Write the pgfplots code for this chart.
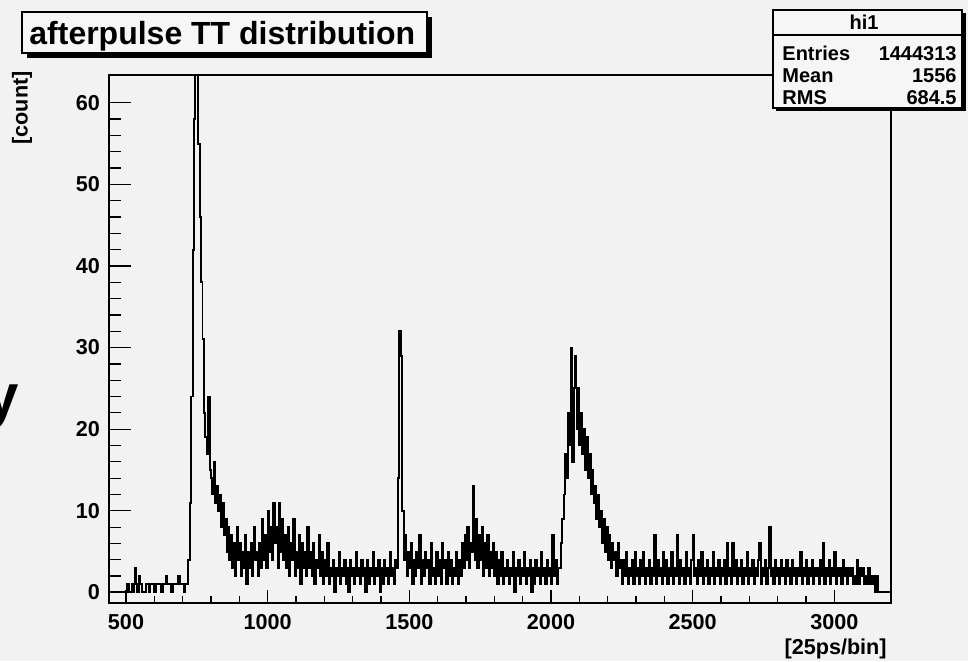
\documentclass[border=0pt]{standalone}
\usepackage{fontspec}
\setmainfont{Liberation Sans}
\usepackage{pgfplots}
\pgfplotsset{compat=1.18}
\definecolor{bg}{RGB}{242,242,242}
\definecolor{boxbg}{RGB}{246,246,246}
\begin{document}
\begin{tikzpicture}[x=1pt,y=1pt]
\useasboundingbox (0,0) rectangle (484,330.5);
\fill[bg] (0,0) rectangle (484,330.5);
\begin{axis}[
  at={(54.5pt,29pt)}, anchor=south west, scale only axis,
  width=391pt, height=264pt,
  xmin=440, xmax=3200, ymin=-1.3, ymax=63.4,
  xtick={500,1000,1500,2000,2500,3000}, ytick={0,10,20,30,40,50,60},
  minor x tick num=4, minor y tick num=4,
  tick align=inside, tick pos=left,
  xtick style={/pgfplots/major tick length=6.5pt,/pgfplots/minor tick length=3.5pt},
  ytick style={/pgfplots/major tick length=11pt,/pgfplots/minor tick length=6pt},
  axis line style={line width=0.6pt},
  tick style={black, line width=0.6pt},
  ticklabel style={font=\bfseries\fontsize{10.8}{12}\selectfont},
  xticklabel style={yshift=-2pt},
  yticklabel style={xshift=-1pt},
  /pgf/number format/assume math mode=true,
  /pgf/number format/1000 sep={},
  scaled ticks=false,
  axis background/.style={fill=bg},
]
\addplot[const plot mark left, black, line width=0.95pt, line join=miter] coordinates {
(440,0)(445,0)(450,0)(455,0)(460,0)(465,0)(470,0)(475,0)(480,0)(485,0)(490,0)(495,0)(500,0)(505,1)(510,0)(515,0)(520,1)(525,0)(530,3)(535,1)(540,0)(545,2)(550,1)(555,0)(560,0)(565,0)(570,1)(575,1)(580,0)(585,1)(590,1)(595,1)(600,0)(605,1)(610,1)(615,1)(620,1)(625,0)(630,1)(635,1)(640,2)(645,1)(650,1)(655,1)(660,0)(665,1)(670,1)(675,1)(680,1)(685,2)(690,1)(695,1)(700,1)(705,0)(710,1)(715,1)(720,4)
(725,11)(730,24)(735,42)(740,58)(745,66)(750,66)(755,55)(760,46)(765,38)(770,31)(775,22)(780,19)(785,17)(790,24)(795,15)(800,14)(805,12)(810,16)(815,11)(820,13)(825,10)(830,12)(835,8)(840,11)(845,7)(850,9)(855,5)(860,8)(865,4)(870,7)(875,3)(880,6)(885,2)(890,8)(895,4)(900,6)(905,2)(910,5)(915,3)(920,7)(925,1)(930,5)(935,3)(940,6)(945,2)(950,8)(955,4)(960,5)(965,2)(970,6)(975,3)(980,9)(985,4)(990,7)(995,3)
(1000,10)(1005,5)(1010,8)(1015,4)(1020,11)(1025,6)(1030,8)(1035,3)(1040,11)(1045,5)(1050,9)(1055,4)(1060,7)(1065,3)(1070,8)(1075,2)(1080,6)(1085,4)(1090,9)(1095,2)(1100,5)(1105,3)(1110,7)(1115,1)(1120,6)(1125,3)(1130,5)(1135,2)(1140,8)(1145,3)(1150,5)(1155,2)(1160,6)(1165,1)(1170,4)(1175,3)(1180,7)(1185,2)(1190,5)(1195,1)(1200,4)(1205,2)(1210,6)(1215,1)(1220,3)(1225,2)(1230,4)(1235,0)(1240,3)(1245,2)(1250,5)(1255,1)(1260,3)(1265,2)(1270,4)(1275,1)(1280,3)(1285,0)(1290,4)(1295,2)(1300,3)(1305,1)(1310,5)(1315,2)(1320,3)(1325,1)(1330,4)(1335,2)(1340,3)(1345,0)(1350,4)(1355,1)(1360,3)(1365,2)(1370,5)(1375,1)(1380,3)(1385,2)(1390,4)(1395,0)(1400,3)(1405,1)(1410,4)(1415,2)(1420,3)(1425,1)(1430,5)(1435,2)(1440,3)(1445,1)(1450,4)(1455,3)
(1460,14)(1465,32)(1470,29)(1475,10)(1480,4)(1485,7)(1490,2)(1495,5)(1500,3)(1505,6)(1510,1)(1515,4)(1520,2)(1525,5)(1530,3)(1535,7)(1540,1)(1545,4)(1550,2)(1555,5)(1560,3)(1565,4)(1570,1)(1575,6)(1580,2)(1585,3)(1590,1)(1595,5)(1600,2)(1605,4)(1610,1)(1615,6)(1620,3)(1625,4)(1630,1)(1635,5)(1640,2)(1645,4)(1650,1)(1655,3)(1660,2)(1665,5)(1670,1)(1675,4)(1680,2)(1685,6)(1690,3)(1695,7)(1700,4)(1705,8)(1710,3)(1715,6)(1720,5)(1725,13)(1730,4)(1735,9)(1740,3)(1745,7)(1750,4)(1755,8)(1760,2)(1765,6)(1770,3)(1775,7)(1780,2)(1785,5)(1790,3)(1795,6)(1800,2)(1805,5)(1810,1)(1815,4)(1820,2)(1825,5)(1830,1)(1835,3)(1840,2)(1845,4)(1850,1)(1855,3)(1860,2)(1865,5)(1870,0)(1875,3)(1880,2)(1885,4)(1890,1)(1895,3)(1900,2)(1905,5)(1910,1)(1915,3)(1920,2)(1925,4)(1930,0)(1935,3)(1940,1)(1945,4)(1950,2)(1955,3)(1960,1)(1965,5)(1970,2)(1975,3)(1980,1)(1985,4)(1990,2)(1995,3)(2000,1)(2005,7)(2010,2)(2015,4)(2020,1)(2025,3)
(2030,3)(2035,6)(2040,9)(2045,12)(2050,17)(2055,14)(2060,22)(2065,18)(2070,30)(2075,16)(2080,25)(2085,29)(2090,20)(2095,25)(2100,18)(2105,22)(2110,17)(2115,20)(2120,15)(2125,19)(2130,14)(2135,17)(2140,12)(2145,15)(2150,11)(2155,13)(2160,9)(2165,12)(2170,8)(2175,10)(2180,6)(2185,9)(2190,5)(2195,8)(2200,4)(2205,7)(2210,3)(2215,6)(2220,4)(2225,5)(2230,2)(2235,6)(2240,3)(2245,4)(2250,1)
(2255,4)(2260,2)(2265,5)(2270,1)(2275,3)(2280,2)(2285,4)(2290,1)(2295,5)(2300,2)(2305,3)(2310,1)(2315,4)(2320,2)(2325,5)(2330,1)(2335,3)(2340,2)(2345,4)(2350,1)(2355,3)(2360,2)(2365,7)(2370,1)(2375,4)(2380,2)(2385,3)(2390,1)(2395,5)(2400,2)(2405,4)(2410,1)(2415,3)(2420,2)(2425,5)(2430,1)(2435,3)(2440,2)(2445,7)(2450,1)(2455,4)(2460,2)(2465,3)(2470,1)(2475,5)(2480,2)(2485,3)(2490,1)(2495,4)(2500,7)(2505,2)(2510,3)(2515,1)(2520,4)(2525,2)(2530,5)(2535,1)(2540,3)(2545,2)(2550,4)(2555,1)(2560,3)(2565,2)(2570,5)(2575,1)(2580,3)(2585,2)(2590,4)(2595,1)(2600,3)(2605,2)(2610,4)(2615,1)(2620,6)(2625,2)(2630,3)(2635,1)(2640,6)(2645,2)(2650,4)(2655,1)(2660,3)(2665,2)(2670,4)(2675,1)(2680,3)(2685,2)(2690,5)(2695,1)(2700,3)(2705,2)(2710,4)(2715,1)(2720,3)(2725,2)(2730,4)(2735,6)(2740,1)(2745,3)(2750,2)(2755,4)(2760,1)(2765,3)(2770,8)(2775,2)(2780,3)(2785,1)(2790,4)(2795,2)
(2800,3)(2805,1)(2810,4)(2815,2)(2820,3)(2825,1)(2830,4)(2835,2)(2840,3)(2845,1)(2850,4)(2855,2)(2860,3)(2865,1)(2870,3)(2875,2)(2880,5)(2885,1)(2890,3)(2895,2)(2900,4)(2905,1)(2910,3)(2915,2)(2920,4)(2925,1)(2930,3)(2935,2)(2940,3)(2945,1)(2950,4)(2955,2)(2960,6)(2965,1)(2970,3)(2975,2)(2980,4)(2985,1)(2990,3)(2995,2)(3000,5)(3005,1)(3010,3)(3015,2)(3020,3)(3025,1)(3030,4)(3035,2)(3040,3)(3045,1)(3050,3)(3055,2)(3060,3)(3065,1)(3070,2)(3075,1)(3080,4)(3085,1)(3090,3)(3095,2)(3100,3)(3105,1)(3110,2)(3115,1)(3120,3)(3125,1)(3130,2)(3135,1)(3140,2)(3145,0)(3150,2)(3155,0)(3200,0)
};
\draw[line width=1.1pt] (rel axis cs:0,1) -- (rel axis cs:0,0) -- (rel axis cs:1,0);
\end{axis}
% axis titles
\node[anchor=north east, inner sep=0, font=\bfseries\fontsize{10.8}{12}\selectfont] at (443.5,11.5) {[25ps/bin]};
\node[anchor=east, rotate=90, inner sep=0, font=\bfseries\fontsize{10.8}{12}\selectfont] at (11,295) {[count]};
% title box
\fill[black] (13.5,301.5) rectangle (216,322);
\draw[fill=boxbg, line width=0.6pt] (11,304) rectangle (213.5,324.5);
\node[anchor=base west, inner sep=0, font=\bfseries\fontsize{16}{18}\selectfont] at (14.5,308.5) {afterpulse TT distribution};
% stats box
\fill[black] (388,275) rectangle (483,324);
\draw[fill=boxbg, line width=0.6pt] (386.5,276.5) rectangle (481,325.5);
\draw[line width=0.6pt] (386.5,313) -- (481,313);
\node[anchor=base, inner sep=0, font=\bfseries\fontsize{10}{11}\selectfont] at (432,316) {hi1};
\node[anchor=base west, inner sep=0, font=\bfseries\fontsize{10}{11}\selectfont] at (391,300.5) {Entries};
\node[anchor=base east, inner sep=0, font=\bfseries\fontsize{10}{11}\selectfont] at (478.5,300.5) {1444313};
\node[anchor=base west, inner sep=0, font=\bfseries\fontsize{10}{11}\selectfont] at (391,289.5) {Mean};
\node[anchor=base east, inner sep=0, font=\bfseries\fontsize{10}{11}\selectfont] at (478.5,289.5) {1556};
\node[anchor=base west, inner sep=0, font=\bfseries\fontsize{10}{11}\selectfont] at (391,278.5) {RMS};
\node[anchor=base east, inner sep=0, font=\bfseries\fontsize{10}{11}\selectfont] at (478.5,278.5) {684.5};
% stray glyph at the left edge
\node[anchor=base west, inner sep=0, font=\bfseries\fontsize{30}{32}\selectfont] at (-7.5,122.5) {y};
\end{tikzpicture}
\end{document}
